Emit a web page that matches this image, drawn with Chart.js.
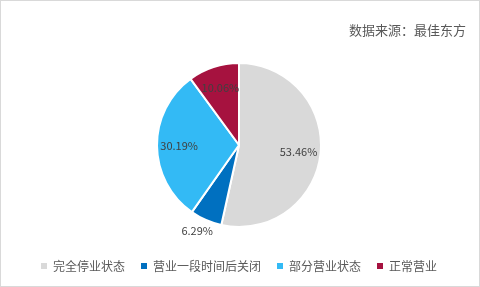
<!DOCTYPE html>
<html lang="zh-CN">
<head>
  <meta charset="UTF-8">
  <title>营业状态分布</title>
  <script src="https://cdn.jsdelivr.net/npm/chart.js"></script>
  <style>
    body {
      margin: 0;
      background: #fff;
    }
    #chart {
      display: block;
    }
  </style>
</head>
<body>
  <canvas id="chart" width="480" height="287"></canvas>

  <script>
    const categories = ['完全停业状态', '营业一段时间后关闭', '部分营业状态', '正常营业'];
    const shares = [53.46, 6.29, 30.19, 10.06];
    const colors = ['#D9D9D9', '#0070C0', '#33BAF5', '#A6123F'];
    const sourceNote = '数据来源：最佳东方';

    const FONT = '"Noto Sans CJK SC", "Noto Sans", sans-serif';

    // frame + source note in the top right corner
    const framePlugin = {
      id: 'frame',
      afterDraw(chart) {
        const ctx = chart.ctx;
        ctx.save();
        ctx.strokeStyle = '#D9D9D9';
        ctx.lineWidth = 1;
        ctx.strokeRect(0.5, 0.5, chart.width - 1, chart.height - 1);
        ctx.fillStyle = '#595959';
        ctx.font = '13px ' + FONT;
        ctx.textAlign = 'right';
        ctx.textBaseline = 'middle';
        ctx.fillText(sourceNote, 466, 30);
        ctx.restore();
      }
    };

    // percentage labels on the slices (small slice gets its label outside)
    const sliceLabels = {
      id: 'sliceLabels',
      afterDatasetsDraw(chart) {
        const ctx = chart.ctx;
        const meta = chart.getDatasetMeta(0);
        ctx.save();
        ctx.font = '11px ' + FONT;
        ctx.fillStyle = '#404040';
        ctx.textAlign = 'center';
        ctx.textBaseline = 'middle';
        meta.data.forEach((arc, i) => {
          const p = arc.getProps(['x', 'y', 'startAngle', 'endAngle', 'outerRadius']);
          const mid = (p.startAngle + p.endAngle) / 2;
          const text = shares[i].toFixed(2) + '%';
          let x, y;
          if (shares[i] < 8) {
            const w = ctx.measureText(text).width;
            const d = p.outerRadius + 6;
            x = p.x + Math.cos(mid) * d + Math.cos(mid) * w / 2;
            y = p.y + Math.sin(mid) * d + Math.sin(mid) * 6;
          } else {
            const d = p.outerRadius * 0.73;
            x = p.x + Math.cos(mid) * d;
            y = p.y + Math.sin(mid) * d;
          }
          ctx.fillText(text, x, y);
        });
        ctx.restore();
      }
    };

    new Chart(document.getElementById('chart'), {
      type: 'pie',
      data: {
        labels: categories,
        datasets: [{
          data: shares,
          backgroundColor: colors,
          borderColor: '#FFFFFF',
          borderWidth: 2,
          radius: 82
        }]
      },
      options: {
        responsive: false,
        animation: false,
        layout: {
          padding: { left: 20, right: 22, top: 46, bottom: 5 }
        },
        plugins: {
          tooltip: { enabled: false },
          legend: {
            position: 'bottom',
            labels: {
              boxWidth: 6,
              boxHeight: 6,
              padding: 16,
              color: '#595959',
              font: { size: 12, family: FONT },
              generateLabels(chart) {
                const items = Chart.overrides.pie.plugins.legend.labels.generateLabels(chart);
                return items.map(item => Object.assign(item, { lineWidth: 0, strokeStyle: 'transparent' }));
              }
            }
          }
        }
      },
      plugins: [sliceLabels, framePlugin]
    });
  </script>
</body>
</html>
